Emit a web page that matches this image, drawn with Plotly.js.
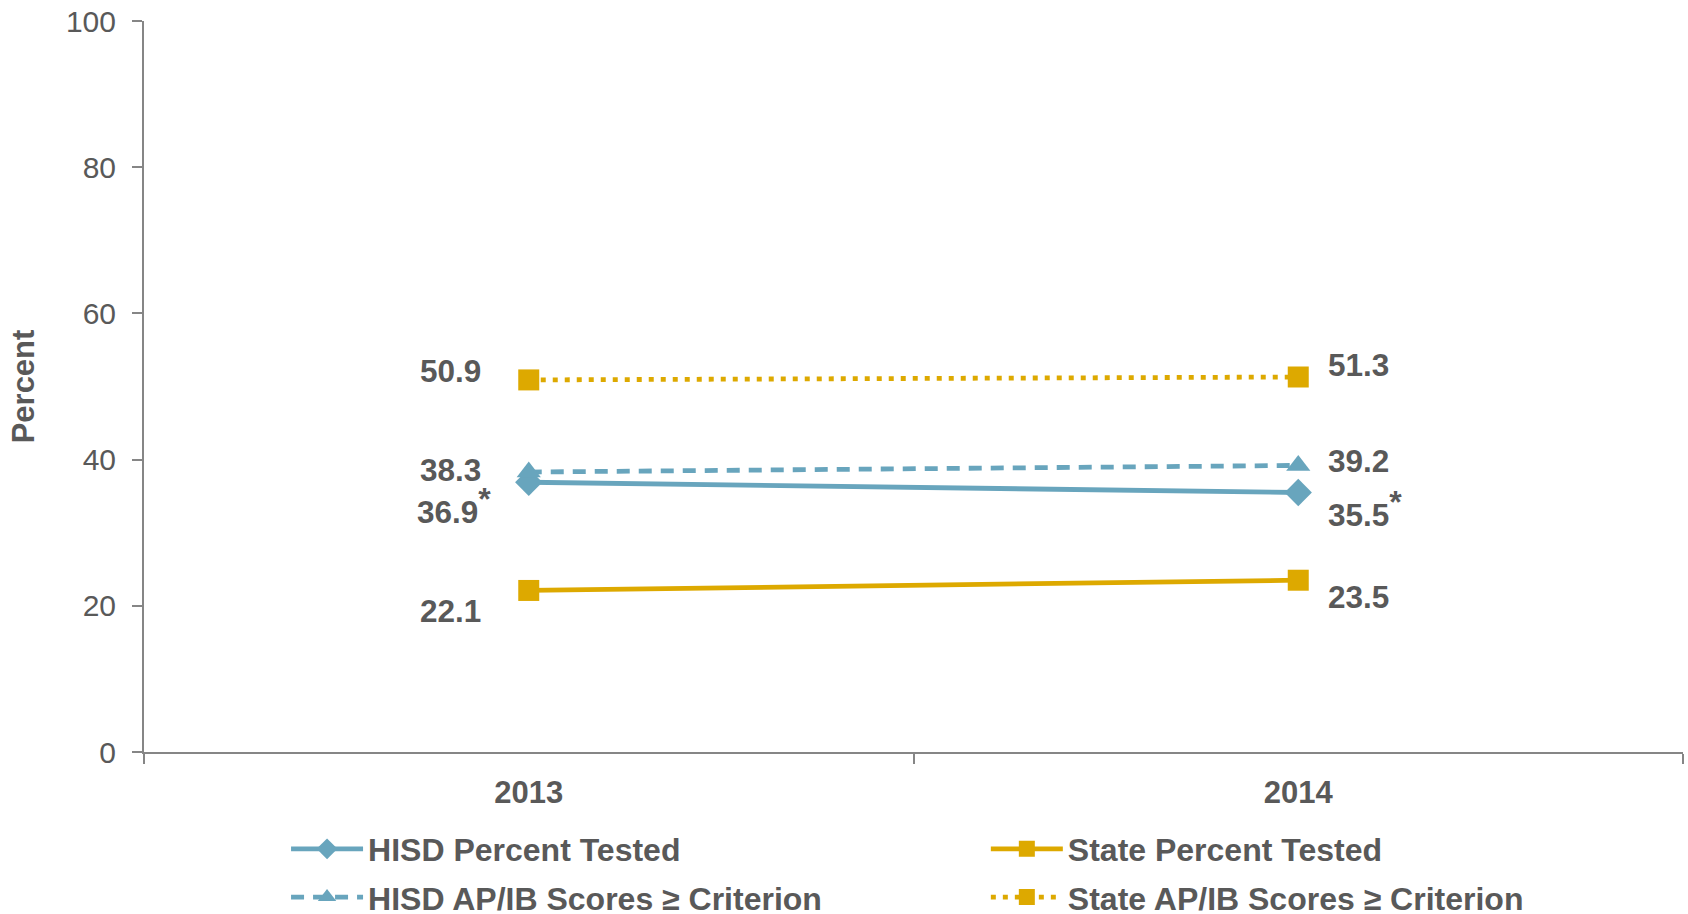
<!DOCTYPE html>
<html>
<head>
<meta charset="utf-8">
<script src="https://cdn.plot.ly/plotly-3.0.1.min.js"></script>
<style>html,body{margin:0;padding:0;background:#fff;}#chart{width:1688px;height:914px;}#err{position:absolute;left:600px;top:100px;color:red;font:14px sans-serif;}</style>
</head>
<body>
<div id="chart"></div>
<div id="err"></div>
<script>
window.onerror = function (m) { document.getElementById('err').textContent += ' ' + m; };
// ---- data ----
const years = ['2013', '2014'];
const seriesNames = ['HISD Percent Tested', 'State Percent Tested', 'HISD AP/IB Scores \u2265 Criterion', 'State AP/IB Scores \u2265 Criterion'];
const hisdTested = [36.9, 35.5];
const stateTested = [22.1, 23.5];
const hisdApib = [38.3, 39.2];
const stateApib = [50.9, 51.3];
const hisdTestedStar = [true, true];
const yTicks = [0, 20, 40, 60, 80, 100];

// ---- styles ----
const BLUE = '#68A5BD';
const GOLD = '#DDA900';
const TXT = '#595959';
const AX = '#868686';
const FONT = 'Liberation Sans, Arial, sans-serif';

const series = [
  {name: seriesNames[0], y: hisdTested, color: BLUE, dash: 'solid', symbol: 'diamond', size: 21, legend: 'legend', star: hisdTestedStar, dy: [-23, -16]},
  {name: seriesNames[1], y: stateTested, color: GOLD, dash: 'solid', symbol: 'square', size: 21, legend: 'legend2', star: [false, false], dy: [-21, -17]},
  {name: seriesNames[2], y: hisdApib, color: BLUE, dash: '13px,9px', symbol: 'triangle-up', size: 21, legend: 'legend3', star: [false, false], dy: [2, 4]},
  {name: seriesNames[3], y: stateApib, color: GOLD, dash: '5px,7px', symbol: 'square', size: 21, legend: 'legend4', star: [false, false], dy: [9, 12]}
];

const traces = series.map(s => ({
  type: 'scatter', mode: 'lines+markers', x: years, y: s.y, name: s.name,
  legend: s.legend,
  line: {color: s.color, width: 4.8, dash: s.dash},
  marker: {color: s.color, symbol: s.symbol, size: s.size},
  hoverinfo: 'x+y+name'
}));

const annotations = [];
series.forEach(s => {
  s.y.forEach((v, i) => {
    const txt = v.toFixed(1) + (s.star[i] ? '<sup><span style="font-size:32px">*</span></sup>' : '');
    annotations.push({
      x: i, y: v, xref: 'x', yref: 'y', text: txt, showarrow: false,
      xanchor: i === 0 ? 'right' : 'left',
      xshift: i === 0 ? (s.star[i] ? -36 : -46) : 28,
      yshift: s.dy[i],
      font: {family: FONT, size: 31.5, color: TXT, weight: 'bold'}
    });
  });
});

function mkLegend(x, y) {
  return {
    orientation: 'v', xanchor: 'left', yanchor: 'middle', x: x, y: y,
    itemwidth: 72,
    font: {family: FONT, size: 32, color: TXT, weight: 'bold'},
    bgcolor: 'rgba(0,0,0,0)', itemclick: false, itemdoubleclick: false
  };
}

const layout = {
  width: 1688, height: 914,
  margin: {l: 144, r: 5, t: 21, b: 162, autoexpand: false},
  paper_bgcolor: '#fff', plot_bgcolor: '#fff',
  showlegend: true,
  xaxis: {
    type: 'category', range: [-0.5, 1.5], tickson: 'boundaries',
    showline: true, linecolor: AX, linewidth: 2,
    ticks: 'outside', ticklen: 10, tickcolor: AX, tickwidth: 2,
    showgrid: false, zeroline: false,
    tickfont: {family: FONT, size: 31, color: TXT, weight: 'bold'},
    ticklabelstandoff: 12
  },
  yaxis: {
    range: [0, 100], tickvals: yTicks, ticktext: yTicks.map(String),
    showline: true, linecolor: AX, linewidth: 2,
    ticks: 'outside', ticklen: 10, tickcolor: AX, tickwidth: 2,
    showgrid: false, zeroline: false,
    tickfont: {family: FONT, size: 30, color: TXT},
    ticklabelstandoff: 10,
    title: {text: 'Percent', font: {family: FONT, size: 31, color: TXT, weight: 'bold'}, standoff: 22}
  },
  legend: mkLegend(0.0923, -0.1327),
  legend2: mkLegend(0.547, -0.1327),
  legend3: mkLegend(0.0923, -0.1987),
  legend4: mkLegend(0.547, -0.1987),
  annotations: annotations
};

Plotly.newPlot('chart', traces, layout, {displayModeBar: false}).catch(e => {
  document.getElementById('err').textContent += ' ' + e;
});
</script>
</body>
</html>
